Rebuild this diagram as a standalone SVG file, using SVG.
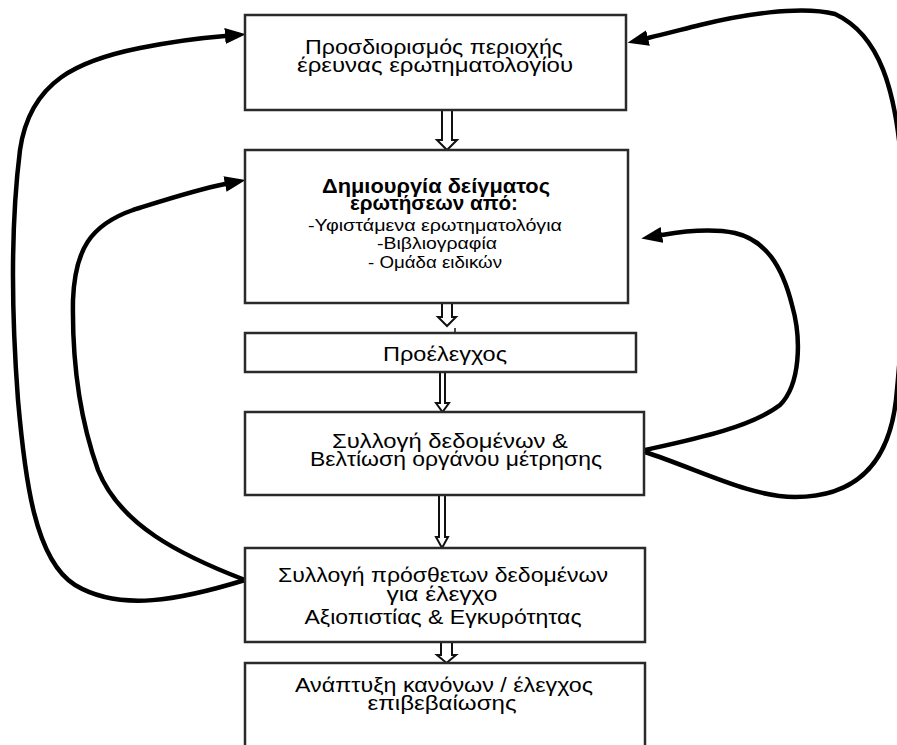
<svg xmlns="http://www.w3.org/2000/svg" width="897" height="745" viewBox="0 0 897 745">
<style>
.box{fill:#fff;stroke:#2a2a2a;stroke-width:2.5}
.t{font-family:"Liberation Sans","Noto Sans",sans-serif;font-size:21px;fill:#000;text-anchor:middle}
.b{font-weight:bold}
.s{font-size:17px}
.blk{fill:#fff;stroke:#111;stroke-width:2;stroke-linejoin:miter}
.cur{fill:none;stroke:#000;stroke-width:4.5;stroke-linecap:round}
</style>
<defs>
<marker id="ah" markerUnits="userSpaceOnUse" markerWidth="24" markerHeight="20" refX="0" refY="8" orient="auto">
<path d="M0,0 L21,8 L0,16 z" fill="#000"/>
</marker>
</defs>
<rect width="897" height="745" fill="#fff"/>
<g id="connectors">
<polygon class="blk" points="442,110 452,110 452,140 457,140 447,150 437,140 442,140"/>
<polygon class="blk" points="442,303 452,303 452,317 456,317 447,326 438,317 442,317"/>
<line x1="455" y1="328" x2="455" y2="333" stroke="#111" stroke-width="1.5"/>
<polygon class="blk" points="440,372 445,372 445,403 449,403 442.5,412 436,403 440,403"/>
<polygon class="blk" points="439,495 445,495 445,537 448,537 442,548 436,537 439,537"/>
<polygon class="blk" points="441,642 452,642 452,655 456,655 446.5,663 437,655 441,655"/>
<path class="cur" marker-end="url(#ah)" d="M245,580 C180,600 120,612 75,585 C35,560 25,480 18,400 C12,320 10,230 20,150 C30,80 80,60 140,48 C170,42 200,38 225,36"/>
<path class="cur" marker-end="url(#ah)" d="M245,580 C180,555 120,525 98,470 C80,420 72,360 73,300 C75,250 90,225 133,210 C165,200 195,190 225,184"/>
<path class="cur" marker-end="url(#ah)" d="M645,452 C700,470 750,497 795,497 C850,497 888,470 896,400 C903,330 908,250 902,170 C896,90 880,35 835,14 C800,5 740,15 700,25 C680,30 665,34 648,38"/>
<path class="cur" marker-end="url(#ah)" d="M645,450 C690,440 750,428 780,405 C800,385 802,340 792,305 C782,265 765,240 735,233 C710,228 685,231 662,235"/>
</g>
<g id="n1">
<rect class="box" x="245" y="15" width="381" height="95"/>
<text class="t" x="434" y="54" textLength="258" lengthAdjust="spacingAndGlyphs">Προσδιορισμός περιοχής</text>
<text class="t" x="435" y="72" textLength="276" lengthAdjust="spacingAndGlyphs">έρευνας ερωτηματολογίου</text>
</g>
<g id="n2">
<rect class="box" x="245" y="150" width="383" height="153"/>
<text class="t b" x="436" y="193" textLength="228" lengthAdjust="spacingAndGlyphs">Δημιουργία δείγματος</text>
<text class="t b" x="434" y="210" textLength="168" lengthAdjust="spacingAndGlyphs">ερωτήσεων από:</text>
<text class="t s" x="435" y="231" textLength="254" lengthAdjust="spacingAndGlyphs">-Υφιστάμενα ερωτηματολόγια</text>
<text class="t s" x="437" y="249" textLength="120" lengthAdjust="spacingAndGlyphs">-Βιβλιογραφία</text>
<text class="t s" x="435" y="268" textLength="134" lengthAdjust="spacingAndGlyphs">- Ομάδα ειδικών</text>
</g>
<g id="n3">
<rect class="box" x="245" y="333" width="391" height="39"/>
<text class="t" x="445" y="361" textLength="124" lengthAdjust="spacingAndGlyphs">Προέλεγχος</text>
</g>
<g id="n4">
<rect class="box" x="245" y="412" width="399" height="83"/>
<text class="t" x="450" y="448" textLength="236" lengthAdjust="spacingAndGlyphs">Συλλογή δεδομένων &amp;</text>
<text class="t" x="456" y="466" textLength="292" lengthAdjust="spacingAndGlyphs">Βελτίωση οργάνου μέτρησης</text>
</g>
<g id="n5">
<rect class="box" x="245" y="548" width="400" height="94"/>
<text class="t" x="443" y="582" textLength="330" lengthAdjust="spacingAndGlyphs">Συλλογή πρόσθετων δεδομένων</text>
<text class="t" x="442" y="601" textLength="111" lengthAdjust="spacingAndGlyphs">για έλεγχο</text>
<text class="t" x="443" y="624" textLength="277" lengthAdjust="spacingAndGlyphs">Αξιοπιστίας &amp; Εγκυρότητας</text>
</g>
<g id="n6">
<rect class="box" x="245" y="663" width="400" height="110"/>
<text class="t" x="444" y="692" textLength="298" lengthAdjust="spacingAndGlyphs">Ανάπτυξη κανόνων / έλεγχος</text>
<text class="t" x="442" y="710" textLength="149" lengthAdjust="spacingAndGlyphs">επιβεβαίωσης</text>
</g>
</svg>
